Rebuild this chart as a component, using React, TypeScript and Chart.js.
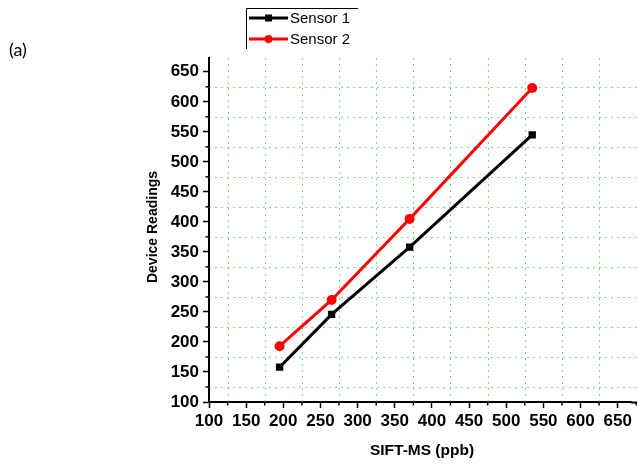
import React, { useEffect, useRef } from "react";
import { Chart, registerables } from "chart.js";

Chart.register(...registerables);

const concentrations = [195, 265, 370, 535];
const sensor1 = [158, 246, 358, 545];
const sensor2 = [193, 270, 405, 623];
const seriesNames = ["Sensor 1", "Sensor 2"];
const seriesColors = ["#000000", "#ff0000"];
const xTitle = "SIFT-MS (ppb)";
const yTitle = "Device Readings";
const panelLabel = "(a)";
const minorGridX = [125, 175, 225, 275, 325, 375, 425, 475, 525, 575, 625, 675];
const minorGridY = [125, 175, 225, 275, 325, 375, 425, 475, 525, 575, 625];

const FONT = "'Liberation Sans', Arial, sans-serif";

const decorPlugin = {
  id: "decor",
  beforeDatasetsDraw(chart: any) {
    const { ctx, chartArea, scales } = chart;
    const xs = scales.x;
    const ys = scales.y;
    ctx.save();
    ctx.strokeStyle = "rgba(60,205,60,0.7)";
    ctx.lineWidth = 1;
    ctx.setLineDash([2, 4]);
    minorGridX.forEach((v) => {
      const px = Math.round(xs.getPixelForValue(v)) + 0.5;
      if (px > chartArea.right + 1) return;
      ctx.beginPath();
      ctx.moveTo(px, chartArea.top);
      ctx.lineTo(px, chartArea.bottom);
      ctx.stroke();
    });
    minorGridY.forEach((v) => {
      const py = Math.round(ys.getPixelForValue(v)) + 0.5;
      ctx.beginPath();
      ctx.moveTo(chartArea.left, py);
      ctx.lineTo(637, py);
      ctx.stroke();
    });
    ctx.restore();
  },
  afterDraw(chart: any) {
    const { ctx, chartArea, scales } = chart;
    const xs = scales.x;
    const ys = scales.y;
    ctx.save();
    // minor ticks
    ctx.strokeStyle = "#000";
    ctx.lineWidth = 1.5;
    ctx.setLineDash([]);
    minorGridX.forEach((v) => {
      const px = xs.getPixelForValue(v);
      if (px > 637) return;
      ctx.beginPath();
      ctx.moveTo(px, chartArea.bottom);
      ctx.lineTo(px, chartArea.bottom + 3.5);
      ctx.stroke();
    });
    minorGridY.forEach((v) => {
      const py = ys.getPixelForValue(v);
      ctx.beginPath();
      ctx.moveTo(chartArea.left, py);
      ctx.lineTo(chartArea.left - 3.5, py);
      ctx.stroke();
    });
    // extend x axis line to the canvas edge
    ctx.lineWidth = 2;
    ctx.beginPath();
    ctx.moveTo(chartArea.right - 1, chartArea.bottom + 0.5);
    ctx.lineTo(637, chartArea.bottom + 0.5);
    ctx.stroke();

    // axis titles
    ctx.fillStyle = "#000";
    ctx.font = `bold 15.5px ${FONT}`;
    ctx.textAlign = "center";
    ctx.textBaseline = "middle";
    ctx.fillText(xTitle, 422, 451);
    ctx.save();
    ctx.translate(153, (chartArea.top + chartArea.bottom) / 2 - 3);
    ctx.rotate(-Math.PI / 2);
    ctx.font = `bold 14px ${FONT}`;
    ctx.fillText(yTitle, 0, 0);
    ctx.restore();

    // panel label
    ctx.font = `18px Lato, ${FONT}`;
    ctx.textAlign = "left";
    ctx.fillText(panelLabel, 9, 50);

    // legend box
    ctx.strokeStyle = "#000";
    ctx.lineWidth = 1;
    ctx.beginPath();
    ctx.moveTo(246.5, 49);
    ctx.lineTo(246.5, 8.5);
    ctx.lineTo(358, 8.5);
    ctx.stroke();
    const rows = [18, 39];
    rows.forEach((cy, i) => {
      ctx.strokeStyle = seriesColors[i];
      ctx.fillStyle = seriesColors[i];
      ctx.lineWidth = 3;
      ctx.beginPath();
      ctx.moveTo(249, cy);
      ctx.lineTo(288, cy);
      ctx.stroke();
      if (i === 0) {
        ctx.fillRect(265, cy - 3.5, 7, 7);
      } else {
        ctx.beginPath();
        ctx.arc(268.5, cy, 4, 0, Math.PI * 2);
        ctx.fill();
      }
      ctx.fillStyle = "#000";
      ctx.font = `15px ${FONT}`;
      ctx.textAlign = "left";
      ctx.textBaseline = "middle";
      ctx.fillText(seriesNames[i], 290, cy + 1);
    });
    ctx.restore();
  },
};

export default function App() {
  const ref = useRef<HTMLCanvasElement | null>(null);

  useEffect(() => {
    if (!ref.current) return;
    const tickFont = { family: FONT, size: 17, weight: "bold" as const };
    const chart = new Chart(ref.current, {
      type: "line",
      data: {
        datasets: [
          {
            label: seriesNames[0],
            data: concentrations.map((x, i) => ({ x, y: sensor1[i] })),
            borderColor: seriesColors[0],
            backgroundColor: seriesColors[0],
            borderWidth: 3,
            pointStyle: "rect",
            pointRadius: 5.2,
            pointBorderWidth: 0,
          },
          {
            label: seriesNames[1],
            data: concentrations.map((x, i) => ({ x, y: sensor2[i] })),
            borderColor: seriesColors[1],
            backgroundColor: seriesColors[1],
            borderWidth: 3,
            pointStyle: "circle",
            pointRadius: 5,
            pointBorderWidth: 0,
          },
        ],
      },
      options: {
        responsive: false,
        animation: false,
        layout: { padding: { top: 58, right: 0, bottom: 0, left: 0 } },
        plugins: {
          legend: { display: false },
          tooltip: { enabled: false },
        },
        scales: {
          x: {
            type: "linear",
            min: 100,
            max: 669,
            ticks: {
              stepSize: 50,
              includeBounds: false,
              autoSkip: false,
              maxRotation: 0,
              color: "#000",
              font: tickFont,
              padding: 3,
            },
            grid: {
              drawOnChartArea: false,
              drawTicks: true,
              tickLength: 6,
              tickColor: "#000",
              tickWidth: 1.5,
            },
            border: { display: true, color: "#000", width: 2 },
            afterFit: (s: any) => {
              s.height = 63;
              s.paddingLeft = 0;
              s.paddingRight = 0;
            },
          },
          y: {
            type: "linear",
            min: 100,
            max: 673,
            ticks: {
              stepSize: 50,
              includeBounds: false,
              autoSkip: false,
              color: "#000",
              font: tickFont,
              padding: 4,
            },
            grid: {
              drawOnChartArea: false,
              drawTicks: true,
              tickLength: 6,
              tickColor: "#000",
              tickWidth: 1.5,
            },
            border: { display: true, color: "#000", width: 2 },
            afterFit: (s: any) => {
              s.width = 209;
              s.paddingTop = 0;
              s.paddingBottom = 0;
            },
          },
        },
      },
      plugins: [decorPlugin],
    });
    return () => chart.destroy();
  }, []);

  return (
    <div style={{ position: "fixed", left: 0, top: 0, width: 637, height: 465, background: "#fff" }}>
      <canvas ref={ref} width={637} height={465} style={{ display: "block" }} />
    </div>
  );
}
